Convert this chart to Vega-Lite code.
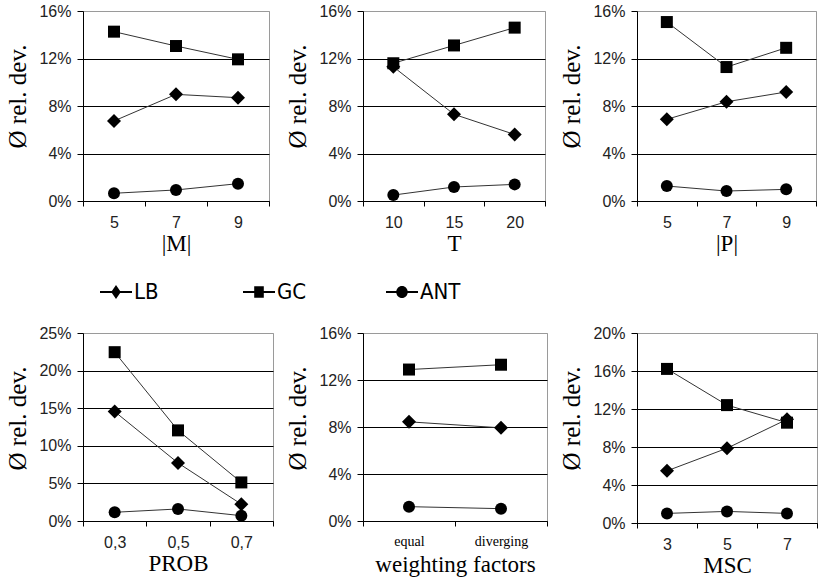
{
  "$schema": "https://vega.github.io/schema/vega-lite/v6.json",
  "background": "white",
  "padding": {"left": 5, "top": 2, "right": 0, "bottom": 0},
  "config": {
    "view": {"stroke": "#9a9a9a", "strokeWidth": 1},
    "axisX": {"tickBand": "extent", "labelAngle": 0, "domainColor": "black", "tickColor": "black", "tickSize": 5, "labelFont": "Liberation Sans", "labelFontSize": 16, "labelColor": "#222", "labelPadding": 8, "titleFont": "Liberation Serif", "titleFontSize": 23, "titleFontWeight": "normal", "titleColor": "black", "titlePadding": 2, "grid": false},
    "axisY": {"grid": true, "gridColor": "black", "gridOpacity": 1, "domainColor": "black", "tickColor": "black", "tickSize": 6, "labelFont": "Liberation Sans", "labelFontSize": 16, "labelColor": "#222", "labelPadding": 6, "titleFont": "Liberation Serif", "titleFontSize": 25, "titleFontWeight": "normal", "titleColor": "black", "titlePadding": 8, "titleY": 85, "format": ".0%"}
  },
  "data": {"values": [
    {"p": "M", "x": "5", "s": "GC", "v": 0.1426}, {"p": "M", "x": "5", "s": "LB", "v": 0.0674}, {"p": "M", "x": "5", "s": "ANT", "v": 0.0065},
    {"p": "M", "x": "7", "s": "GC", "v": 0.1305}, {"p": "M", "x": "7", "s": "LB", "v": 0.0898}, {"p": "M", "x": "7", "s": "ANT", "v": 0.0093},
    {"p": "M", "x": "9", "s": "GC", "v": 0.1193}, {"p": "M", "x": "9", "s": "LB", "v": 0.087}, {"p": "M", "x": "9", "s": "ANT", "v": 0.0146},
    {"p": "T", "x": "10", "s": "GC", "v": 0.116}, {"p": "T", "x": "10", "s": "LB", "v": 0.113}, {"p": "T", "x": "10", "s": "ANT", "v": 0.005},
    {"p": "T", "x": "15", "s": "GC", "v": 0.131}, {"p": "T", "x": "15", "s": "LB", "v": 0.073}, {"p": "T", "x": "15", "s": "ANT", "v": 0.0118},
    {"p": "T", "x": "20", "s": "GC", "v": 0.146}, {"p": "T", "x": "20", "s": "LB", "v": 0.056}, {"p": "T", "x": "20", "s": "ANT", "v": 0.014},
    {"p": "P", "x": "5", "s": "GC", "v": 0.1507}, {"p": "P", "x": "5", "s": "LB", "v": 0.0688}, {"p": "P", "x": "5", "s": "ANT", "v": 0.0126},
    {"p": "P", "x": "7", "s": "GC", "v": 0.1128}, {"p": "P", "x": "7", "s": "LB", "v": 0.0836}, {"p": "P", "x": "7", "s": "ANT", "v": 0.0084},
    {"p": "P", "x": "9", "s": "GC", "v": 0.129}, {"p": "P", "x": "9", "s": "LB", "v": 0.0918}, {"p": "P", "x": "9", "s": "ANT", "v": 0.0098},
    {"p": "PROB", "x": "0,3", "s": "GC", "v": 0.2245}, {"p": "PROB", "x": "0,3", "s": "LB", "v": 0.1455}, {"p": "PROB", "x": "0,3", "s": "ANT", "v": 0.0116},
    {"p": "PROB", "x": "0,5", "s": "GC", "v": 0.1205}, {"p": "PROB", "x": "0,5", "s": "LB", "v": 0.0772}, {"p": "PROB", "x": "0,5", "s": "ANT", "v": 0.016},
    {"p": "PROB", "x": "0,7", "s": "GC", "v": 0.0513}, {"p": "PROB", "x": "0,7", "s": "LB", "v": 0.0223}, {"p": "PROB", "x": "0,7", "s": "ANT", "v": 0.0071},
    {"p": "W", "x": "equal", "s": "GC", "v": 0.1289}, {"p": "W", "x": "equal", "s": "LB", "v": 0.0844}, {"p": "W", "x": "equal", "s": "ANT", "v": 0.0122},
    {"p": "W", "x": "diverging", "s": "GC", "v": 0.133}, {"p": "W", "x": "diverging", "s": "LB", "v": 0.0793}, {"p": "W", "x": "diverging", "s": "ANT", "v": 0.0105},
    {"p": "MSC", "x": "3", "s": "GC", "v": 0.1622}, {"p": "MSC", "x": "3", "s": "LB", "v": 0.0549}, {"p": "MSC", "x": "3", "s": "ANT", "v": 0.0101},
    {"p": "MSC", "x": "5", "s": "GC", "v": 0.1241}, {"p": "MSC", "x": "5", "s": "LB", "v": 0.0787}, {"p": "MSC", "x": "5", "s": "ANT", "v": 0.0122},
    {"p": "MSC", "x": "7", "s": "GC", "v": 0.1056}, {"p": "MSC", "x": "7", "s": "LB", "v": 0.1091}, {"p": "MSC", "x": "7", "s": "ANT", "v": 0.0101}
  ]},
  "bounds": "flush",
  "columns": 3,
  "spacing": {"row": 132, "column": 90},
  "concat": [
    {
      "width": 186, "height": 190,
      "transform": [{"filter": "datum.p === 'M'"}],
      "encoding": {
        "x": {"field": "x", "type": "nominal", "sort": null, "bandPosition": 0.5, "scale": {"type": "band", "paddingInner": 0, "paddingOuter": 0}, "axis": {"title": "|M|"}},
        "y": {"field": "v", "type": "quantitative", "scale": {"domain": [0, 0.16], "nice": false}, "axis": {"values": [0, 0.04, 0.08, 0.12, 0.16], "title": "Ø rel. dev.", "titleFont": "Liberation Serif", "gridColor": {"condition": {"test": "datum.value > 0.155", "value": "#9a9a9a"}, "value": "black"}}}
      },
      "layer": [
        {"mark": {"type": "line", "color": "#333", "strokeWidth": 1}, "encoding": {"detail": {"field": "s"}}},
        {"transform": [{"filter": "datum.s === 'LB'"}], "mark": {"type": "point", "shape": "diamond", "filled": true, "color": "black", "opacity": 1, "size": 196}},
        {"transform": [{"filter": "datum.s === 'GC'"}], "mark": {"type": "point", "shape": "square", "filled": true, "color": "black", "opacity": 1, "size": 144}},
        {"transform": [{"filter": "datum.s === 'ANT'"}], "mark": {"type": "point", "shape": "circle", "filled": true, "color": "black", "opacity": 1, "size": 144}},
        {"mark": {"type": "point", "filled": true, "fill": "black", "opacity": 0},
         "encoding": {"shape": {"field": "s", "type": "nominal",
           "scale": {"domain": ["LB", "GC", "ANT"], "range": [
             "M-1,-0.06L1,-0.06L1,0.06L-1,0.06Z M-0.3,0L0,-0.44L0.3,0L0,0.44Z",
             "M-1,-0.06L1,-0.06L1,0.06L-1,0.06Z M-0.3,-0.36L0.3,-0.36L0.3,0.36L-0.3,0.36Z",
             "M-1,-0.06L1,-0.06L1,0.06L-1,0.06Z M0.36,0A0.36,0.38 0 1,1 -0.36,0A0.36,0.38 0 1,1 0.36,0Z"]},
           "legend": {"orient": "none", "legendX": 17, "legendY": 265, "direction": "horizontal", "title": null, "padding": 0, "gridAlign": "all", "columnPadding": 68, "labelFont": "Liberation Sans Narrow, DejaVu Sans Condensed", "labelFontSize": 22, "labelColor": "black", "labelOffset": 2, "symbolSize": 1024, "symbolStrokeWidth": 0, "symbolFillColor": "black", "symbolOpacity": 1,
             "encode": {"symbols": {"fill": {"value": "black"}, "opacity": {"value": 1}}}}}}}
      ]
    },
    {
      "width": 182, "height": 190,
      "transform": [{"filter": "datum.p === 'T'"}],
      "encoding": {
        "x": {"field": "x", "type": "nominal", "sort": null, "bandPosition": 0.5, "scale": {"type": "band", "paddingInner": 0, "paddingOuter": 0}, "axis": {"title": "T"}},
        "y": {"field": "v", "type": "quantitative", "scale": {"domain": [0, 0.16], "nice": false}, "axis": {"values": [0, 0.04, 0.08, 0.12, 0.16], "title": "Ø rel. dev.", "titleFont": "Liberation Serif", "gridColor": {"condition": {"test": "datum.value > 0.155", "value": "#9a9a9a"}, "value": "black"}}}
      },
      "layer": [
        {"mark": {"type": "line", "color": "#333", "strokeWidth": 1}, "encoding": {"detail": {"field": "s"}}},
        {"transform": [{"filter": "datum.s === 'LB'"}], "mark": {"type": "point", "shape": "diamond", "filled": true, "color": "black", "opacity": 1, "size": 196}},
        {"transform": [{"filter": "datum.s === 'GC'"}], "mark": {"type": "point", "shape": "square", "filled": true, "color": "black", "opacity": 1, "size": 144}},
        {"transform": [{"filter": "datum.s === 'ANT'"}], "mark": {"type": "point", "shape": "circle", "filled": true, "color": "black", "opacity": 1, "size": 144}}
      ]
    },
    {
      "width": 179, "height": 190,
      "transform": [{"filter": "datum.p === 'P'"}],
      "encoding": {
        "x": {"field": "x", "type": "nominal", "sort": null, "bandPosition": 0.5, "scale": {"type": "band", "paddingInner": 0, "paddingOuter": 0}, "axis": {"title": "|P|"}},
        "y": {"field": "v", "type": "quantitative", "scale": {"domain": [0, 0.16], "nice": false}, "axis": {"values": [0, 0.04, 0.08, 0.12, 0.16], "title": "Ø rel. dev.", "titleFont": "Liberation Serif", "gridColor": {"condition": {"test": "datum.value > 0.155", "value": "#9a9a9a"}, "value": "black"}}}
      },
      "layer": [
        {"mark": {"type": "line", "color": "#333", "strokeWidth": 1}, "encoding": {"detail": {"field": "s"}}},
        {"transform": [{"filter": "datum.s === 'LB'"}], "mark": {"type": "point", "shape": "diamond", "filled": true, "color": "black", "opacity": 1, "size": 196}},
        {"transform": [{"filter": "datum.s === 'GC'"}], "mark": {"type": "point", "shape": "square", "filled": true, "color": "black", "opacity": 1, "size": 144}},
        {"transform": [{"filter": "datum.s === 'ANT'"}], "mark": {"type": "point", "shape": "circle", "filled": true, "color": "black", "opacity": 1, "size": 144}}
      ]
    },
    {
      "width": 190, "height": 188,
      "transform": [{"filter": "datum.p === 'PROB'"}],
      "encoding": {
        "x": {"field": "x", "type": "nominal", "sort": null, "bandPosition": 0.5, "scale": {"type": "band", "paddingInner": 0, "paddingOuter": 0}, "axis": {"title": "PROB"}},
        "y": {"field": "v", "type": "quantitative", "scale": {"domain": [0, 0.25], "nice": false}, "axis": {"values": [0, 0.05, 0.1, 0.15, 0.2, 0.25], "title": "Ø rel. dev.", "titleFont": "Liberation Serif", "gridColor": {"condition": {"test": "datum.value > 0.245", "value": "#9a9a9a"}, "value": "black"}}}
      },
      "layer": [
        {"mark": {"type": "line", "color": "#333", "strokeWidth": 1}, "encoding": {"detail": {"field": "s"}}},
        {"transform": [{"filter": "datum.s === 'LB'"}], "mark": {"type": "point", "shape": "diamond", "filled": true, "color": "black", "opacity": 1, "size": 196}},
        {"transform": [{"filter": "datum.s === 'GC'"}], "mark": {"type": "point", "shape": "square", "filled": true, "color": "black", "opacity": 1, "size": 144}},
        {"transform": [{"filter": "datum.s === 'ANT'"}], "mark": {"type": "point", "shape": "circle", "filled": true, "color": "black", "opacity": 1, "size": 144}}
      ]
    },
    {
      "width": 184, "height": 188,
      "transform": [{"filter": "datum.p === 'W'"}],
      "encoding": {
        "x": {"field": "x", "type": "nominal", "sort": null, "bandPosition": 0.5, "scale": {"type": "band", "paddingInner": 0, "paddingOuter": 0}, "axis": {"title": "weighting factors", "titlePadding": 5, "labelFont": "Liberation Serif", "labelFontSize": 14, "labelColor": "black"}},
        "y": {"field": "v", "type": "quantitative", "scale": {"domain": [0, 0.16], "nice": false}, "axis": {"values": [0, 0.04, 0.08, 0.12, 0.16], "title": "Ø rel. dev.", "titleFont": "Liberation Serif", "gridColor": {"condition": {"test": "datum.value > 0.155", "value": "#9a9a9a"}, "value": "black"}}}
      },
      "layer": [
        {"mark": {"type": "line", "color": "#333", "strokeWidth": 1}, "encoding": {"detail": {"field": "s"}}},
        {"transform": [{"filter": "datum.s === 'LB'"}], "mark": {"type": "point", "shape": "diamond", "filled": true, "color": "black", "opacity": 1, "size": 196}},
        {"transform": [{"filter": "datum.s === 'GC'"}], "mark": {"type": "point", "shape": "square", "filled": true, "color": "black", "opacity": 1, "size": 144}},
        {"transform": [{"filter": "datum.s === 'ANT'"}], "mark": {"type": "point", "shape": "circle", "filled": true, "color": "black", "opacity": 1, "size": 144}}
      ]
    },
    {
      "width": 180, "height": 190,
      "transform": [{"filter": "datum.p === 'MSC'"}],
      "encoding": {
        "x": {"field": "x", "type": "nominal", "sort": null, "bandPosition": 0.5, "scale": {"type": "band", "paddingInner": 0, "paddingOuter": 0}, "axis": {"title": "MSC"}},
        "y": {"field": "v", "type": "quantitative", "scale": {"domain": [0, 0.2], "nice": false}, "axis": {"values": [0, 0.04, 0.08, 0.12, 0.16, 0.2], "title": "Ø rel. dev.", "titleFont": "Liberation Serif", "gridColor": {"condition": {"test": "datum.value > 0.195", "value": "#9a9a9a"}, "value": "black"}}}
      },
      "layer": [
        {"mark": {"type": "line", "color": "#333", "strokeWidth": 1}, "encoding": {"detail": {"field": "s"}}},
        {"transform": [{"filter": "datum.s === 'LB'"}], "mark": {"type": "point", "shape": "diamond", "filled": true, "color": "black", "opacity": 1, "size": 196}},
        {"transform": [{"filter": "datum.s === 'GC'"}], "mark": {"type": "point", "shape": "square", "filled": true, "color": "black", "opacity": 1, "size": 144}},
        {"transform": [{"filter": "datum.s === 'ANT'"}], "mark": {"type": "point", "shape": "circle", "filled": true, "color": "black", "opacity": 1, "size": 144}}
      ]
    }
  ]
}
